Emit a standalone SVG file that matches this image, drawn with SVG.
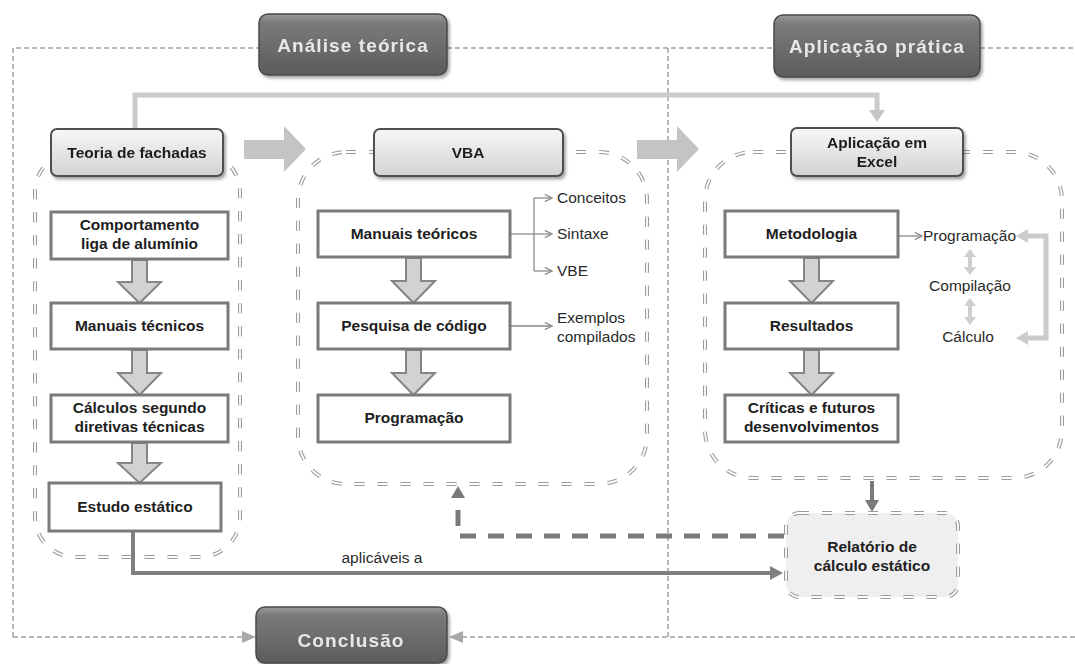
<svg xmlns="http://www.w3.org/2000/svg" width="1075" height="664" viewBox="0 0 1075 664">
<style>
.frame{fill:none;stroke:#a2a2a2;stroke-width:1.5;stroke-dasharray:5 3}
.grpO{fill:none;stroke:#9a9a9a;stroke-width:4;stroke-dasharray:10 13}
.grpI{fill:none;stroke:#fff;stroke-width:1.8;stroke-dasharray:10 13}
.hdr{fill:url(#gDark);stroke:#4a4a4a;stroke-width:1.5}
.hdrT{font-family:"Liberation Sans",Arial,sans-serif;font-size:19px;font-weight:bold;fill:#e8e8e8;letter-spacing:1.1px;text-anchor:middle}
.top{fill:url(#gLight);stroke:#505050;stroke-width:2}
.box{fill:#fff;stroke:#7a7a7a;stroke-width:3}
.bt{font-family:"Liberation Sans",Arial,sans-serif;font-size:15.5px;font-weight:bold;fill:#1e1e1e;text-anchor:middle}
.st{font-family:"Liberation Sans",Arial,sans-serif;font-size:15.5px;fill:#2a2a2a}
.dn{fill:#d2d2d2;stroke:#858585;stroke-width:2;stroke-linejoin:miter}
.thin{fill:none;stroke:#8a8a8a;stroke-width:1.3}
.lg{fill:none;stroke:#cbcbcb;stroke-width:5}
</style>
<defs>
<linearGradient id="gDark" x1="0" y1="0" x2="0" y2="1">
<stop offset="0" stop-color="#9a9a9a"/><stop offset="0.15" stop-color="#7a7a7a"/><stop offset="1" stop-color="#5c5c5c"/>
</linearGradient>
<linearGradient id="gLight" x1="0" y1="0" x2="0" y2="1">
<stop offset="0" stop-color="#f7f7f7"/><stop offset="1" stop-color="#d2d2d2"/>
</linearGradient>
<filter id="sh" x="-10%" y="-20%" width="125%" height="150%">
<feDropShadow dx="2" dy="2.5" stdDeviation="1.5" flood-color="#000" flood-opacity="0.35"/>
</filter>
<marker id="chev" viewBox="0 0 10 10" refX="9" refY="5" markerWidth="9" markerHeight="9" markerUnits="userSpaceOnUse" orient="auto">
<path d="M1,1 L9,5 L1,9" fill="none" stroke="#8a8a8a" stroke-width="1.4"/>
</marker>
</defs>

<!-- outer frame -->
<g id="frame">
<path class="frame" d="M13,637 V48 H259"/>
<path class="frame" d="M447,48 H774"/>
<path class="frame" d="M980,48 H1075"/>
<path class="frame" d="M668,48 V637"/>
<path class="frame" d="M13,637 H244"/>
<path class="frame" d="M1075,637 H462"/>
<polygon points="242,631 256,637 242,643" fill="#a8a8a8"/>
<polygon points="463,631 449,637 463,643" fill="#a8a8a8"/>
</g>

<!-- group containers -->
<g id="containers">
<rect class="grpO" x="35" y="152" width="205" height="405" rx="40"/>
<rect class="grpI" x="35" y="152" width="205" height="405" rx="40"/>
<rect class="grpO" x="298" y="152" width="349" height="332" rx="48"/>
<rect class="grpI" x="298" y="152" width="349" height="332" rx="48"/>
<rect class="grpO" x="705" y="152" width="357" height="326" rx="48"/>
<rect class="grpI" x="705" y="152" width="357" height="326" rx="48"/>
</g>

<!-- connectors -->
<g id="connectors">
<path class="lg" d="M135,129 V95 H877 V112"/>
<polygon points="869,110 885,110 877,122" fill="#c6c6c6"/>
<polygon points="244,140 284,140 284,126 306,149 284,172 284,159 244,159" fill="#c4c4c4"/>
<polygon points="637,140 677,140 677,126 699,149 677,172 677,159 637,159" fill="#c4c4c4"/>
<polygon class="dn" points="132,260 147,260 147,282 161,282 139.5,303 118,282 132,282"/>
<polygon class="dn" points="132,350 147,350 147,373 161,373 139.5,395 118,373 132,373"/>
<polygon class="dn" points="132,443 147,443 147,463 161,463 139.5,483 118,463 132,463"/>
<polygon class="dn" points="406,258 421,258 421,281 435,281 413.5,303 392,281 406,281"/>
<polygon class="dn" points="406,350 421,350 421,373 435,373 413.5,395 392,373 406,373"/>
<polygon class="dn" points="804,258 819,258 819,281 833,281 811.5,303 790,281 804,281"/>
<polygon class="dn" points="804,350 819,350 819,373 833,373 811.5,395 790,373 804,373"/>
<path class="thin" d="M510,234 H534"/>
<path class="thin" d="M534,198 V271"/>
<path class="thin" d="M534,198 H552" marker-end="url(#chev)"/>
<path class="thin" d="M534,234 H552" marker-end="url(#chev)"/>
<path class="thin" d="M534,271 H552" marker-end="url(#chev)"/>
<path class="thin" d="M510,326 H552" marker-end="url(#chev)"/>
<path class="thin" d="M898,236 H922" marker-end="url(#chev)"/>
<path class="lg" d="M1028,236 H1046 V338 H1028"/>
<polygon points="1028,229 1016,236 1028,243" fill="#cbcbcb"/>
<polygon points="1028,331 1016,338 1028,345" fill="#cbcbcb"/>
<path d="M970,256 V268" stroke="#cfcfcf" stroke-width="4"/>
<polygon points="964,257 976,257 970,249" fill="#cfcfcf"/>
<polygon points="964,267 976,267 970,275" fill="#cfcfcf"/>
<path d="M970,305 V318" stroke="#cfcfcf" stroke-width="4"/>
<polygon points="964,306 976,306 970,298" fill="#cfcfcf"/>
<polygon points="964,317 976,317 970,325" fill="#cfcfcf"/>
<path d="M872,481 V502" stroke="#7a7a7a" stroke-width="4"/>
<polygon points="865,500 879,500 872,512" fill="#7a7a7a"/>
<path d="M133,531 V573 H772" fill="none" stroke="#7f7f7f" stroke-width="4"/>
<polygon points="770,566 783,573 770,580" fill="#7f7f7f"/>
<path d="M784,536 H458 V497" fill="none" stroke="#7a7a7a" stroke-width="5" stroke-dasharray="16 12"/>
<polygon points="451,498 465,498 458,486" fill="#7a7a7a"/>
<text class="st" x="382" y="563" text-anchor="middle" font-size="15px">aplicáveis  a</text>
</g>

<!-- headers -->
<g id="hdr-analise" filter="url(#sh)">
<rect class="hdr" x="259" y="14" width="188" height="61" rx="9"/>
<text class="hdrT" x="353" y="52">Análise teórica</text>
</g>
<g id="hdr-aplicacao" filter="url(#sh)">
<rect class="hdr" x="774" y="15" width="206" height="62" rx="9"/>
<text class="hdrT" x="877" y="53">Aplicação prática</text>
</g>
<g id="hdr-conclusao" filter="url(#sh)">
<rect class="hdr" x="256" y="607" width="191" height="56" rx="9"/>
<text class="hdrT" x="351" y="647">Conclusão</text>
</g>

<!-- top nodes -->
<g id="n-teoria" filter="url(#sh)">
<rect class="top" x="51" y="129" width="172" height="47" rx="6"/>
<text class="bt" x="137" y="158">Teoria de fachadas</text>
</g>
<g id="n-vba" filter="url(#sh)">
<rect class="top" x="374" y="129" width="189" height="47" rx="6"/>
<text class="bt" x="468" y="158">VBA</text>
</g>
<g id="n-excel" filter="url(#sh)">
<rect class="top" x="791" y="128" width="172" height="48" rx="6"/>
<text class="bt" x="877" y="148">Aplicação em</text>
<text class="bt" x="877" y="167">Excel</text>
</g>

<!-- left column -->
<g id="n-comport"><rect class="box" x="51" y="212" width="177" height="47"/>
<text class="bt" x="139.5" y="230">Comportamento</text><text class="bt" x="139.5" y="249">liga de alumínio</text></g>
<g id="n-mantec"><rect class="box" x="51" y="303" width="177" height="46"/>
<text class="bt" x="139.5" y="331">Manuais técnicos</text></g>
<g id="n-calc"><rect class="box" x="51" y="395" width="177" height="47"/>
<text class="bt" x="139.5" y="413">Cálculos segundo</text><text class="bt" x="139.5" y="432">diretivas técnicas</text></g>
<g id="n-estudo"><rect class="box" x="49" y="483" width="172" height="48"/>
<text class="bt" x="135" y="512">Estudo  estático</text></g>

<!-- middle column -->
<g id="n-manteo"><rect class="box" x="318" y="211" width="192" height="46"/>
<text class="bt" x="414" y="239">Manuais teóricos</text></g>
<g id="n-pesq"><rect class="box" x="318" y="303" width="192" height="46"/>
<text class="bt" x="414" y="331">Pesquisa de código</text></g>
<g id="n-prog"><rect class="box" x="318" y="395" width="192" height="47"/>
<text class="bt" x="414" y="423">Programação</text></g>
<g id="lbl-vba">
<text class="st" x="557" y="203">Conceitos</text>
<text class="st" x="557" y="239">Sintaxe</text>
<text class="st" x="557" y="276">VBE</text>
<text class="st" x="557" y="323">Exemplos</text>
<text class="st" x="557" y="342">compilados</text>
</g>

<!-- right column -->
<g id="n-metod"><rect class="box" x="725" y="211" width="173" height="46"/>
<text class="bt" x="811.5" y="239">Metodologia</text></g>
<g id="n-result"><rect class="box" x="725" y="303" width="173" height="46"/>
<text class="bt" x="811.5" y="331">Resultados</text></g>
<g id="n-criticas"><rect class="box" x="725" y="395" width="173" height="47"/>
<text class="bt" x="811.5" y="413">Críticas e futuros</text><text class="bt" x="811.5" y="432">desenvolvimentos</text></g>
<g id="lbl-excel">
<text class="st" x="923" y="241">Programação</text>
<text class="st" x="970" y="291" text-anchor="middle">Compilação</text>
<text class="st" x="968" y="342" text-anchor="middle">Cálculo</text>
</g>

<!-- relatorio -->
<g id="n-relatorio">
<rect x="786" y="513" width="172" height="84" rx="13" fill="#efefef"/>
<rect class="grpO" x="786" y="513" width="172" height="84" rx="13"/>
<rect class="grpI" x="786" y="513" width="172" height="84" rx="13"/>
<text class="bt" x="872" y="552">Relatório de</text>
<text class="bt" x="872" y="571">cálculo estático</text>
</g>
</svg>
